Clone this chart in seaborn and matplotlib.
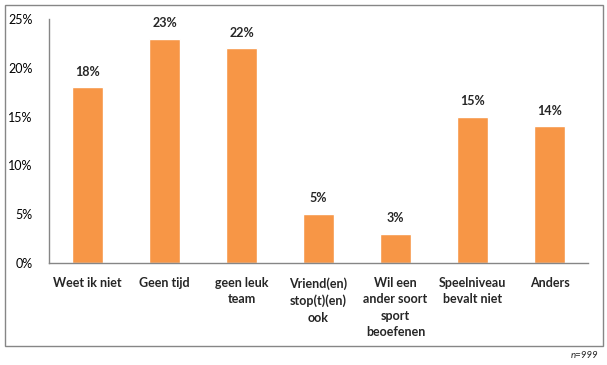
import matplotlib
matplotlib.use("Agg")
import matplotlib.pyplot as plt
import seaborn as sns
import pandas as pd
from matplotlib.patches import Rectangle

categories = ["Weet ik niet", "Geen tijd", "geen leuk\nteam", "Vriend(en)\nstop(t)(en)\nook",
              "Wil een\nander soort\nsport\nbeoefenen", "Speelniveau\nbevalt niet", "Anders"]
values = [18, 23, 22, 5, 3, 15, 14]
yticks = [0, 5, 10, 15, 20, 25]

sns.set_theme(style="white")
plt.rcParams['font.family'] = ['Lato', 'DejaVu Sans']

df = pd.DataFrame({"cat": categories, "val": values})
W, H = 607, 365
fig = plt.figure(figsize=(W/100, H/100), dpi=100)
ax = fig.add_axes([49/W, 1-263/H, (588-49)/W, (263-19)/H])
sns.barplot(data=df, x="cat", y="val", color="#F79646", saturation=1, width=0.4, ax=ax)
ax.set_ylim(0, 25)
ax.set_xlim(-0.5, len(categories)-0.5)
ax.set_yticks(yticks)
ax.set_yticklabels([f"{t}%" for t in yticks], fontsize=9, color="#000000")
ax.tick_params(axis='x', length=0, pad=10, labelsize=9)
ax.tick_params(axis='y', length=0, pad=12)
for lbl in ax.get_xticklabels():
    lbl.set_fontweight('bold')
    lbl.set_linespacing(1.45)
ax.set_xlabel("")
ax.set_ylabel("")
for s in ["top", "right"]:
    ax.spines[s].set_visible(False)
for s in ["left", "bottom"]:
    ax.spines[s].set_color("#868686")
    ax.spines[s].set_linewidth(1)
for i, v in enumerate(values):
    ax.text(i, v + 1.0, f"{v}%", ha="center", va="bottom", fontsize=9, fontweight="bold")

fig.patches.append(Rectangle((5/W, 1-346/H), (603-5)/W, (346-5)/H, transform=fig.transFigure,
                             fill=False, edgecolor="#868686", linewidth=1))
fig.text(598/W, 1-356/H, "n=999", ha="right", va="center", fontsize=7, style="italic")
fig.savefig("out.png", dpi=100)
